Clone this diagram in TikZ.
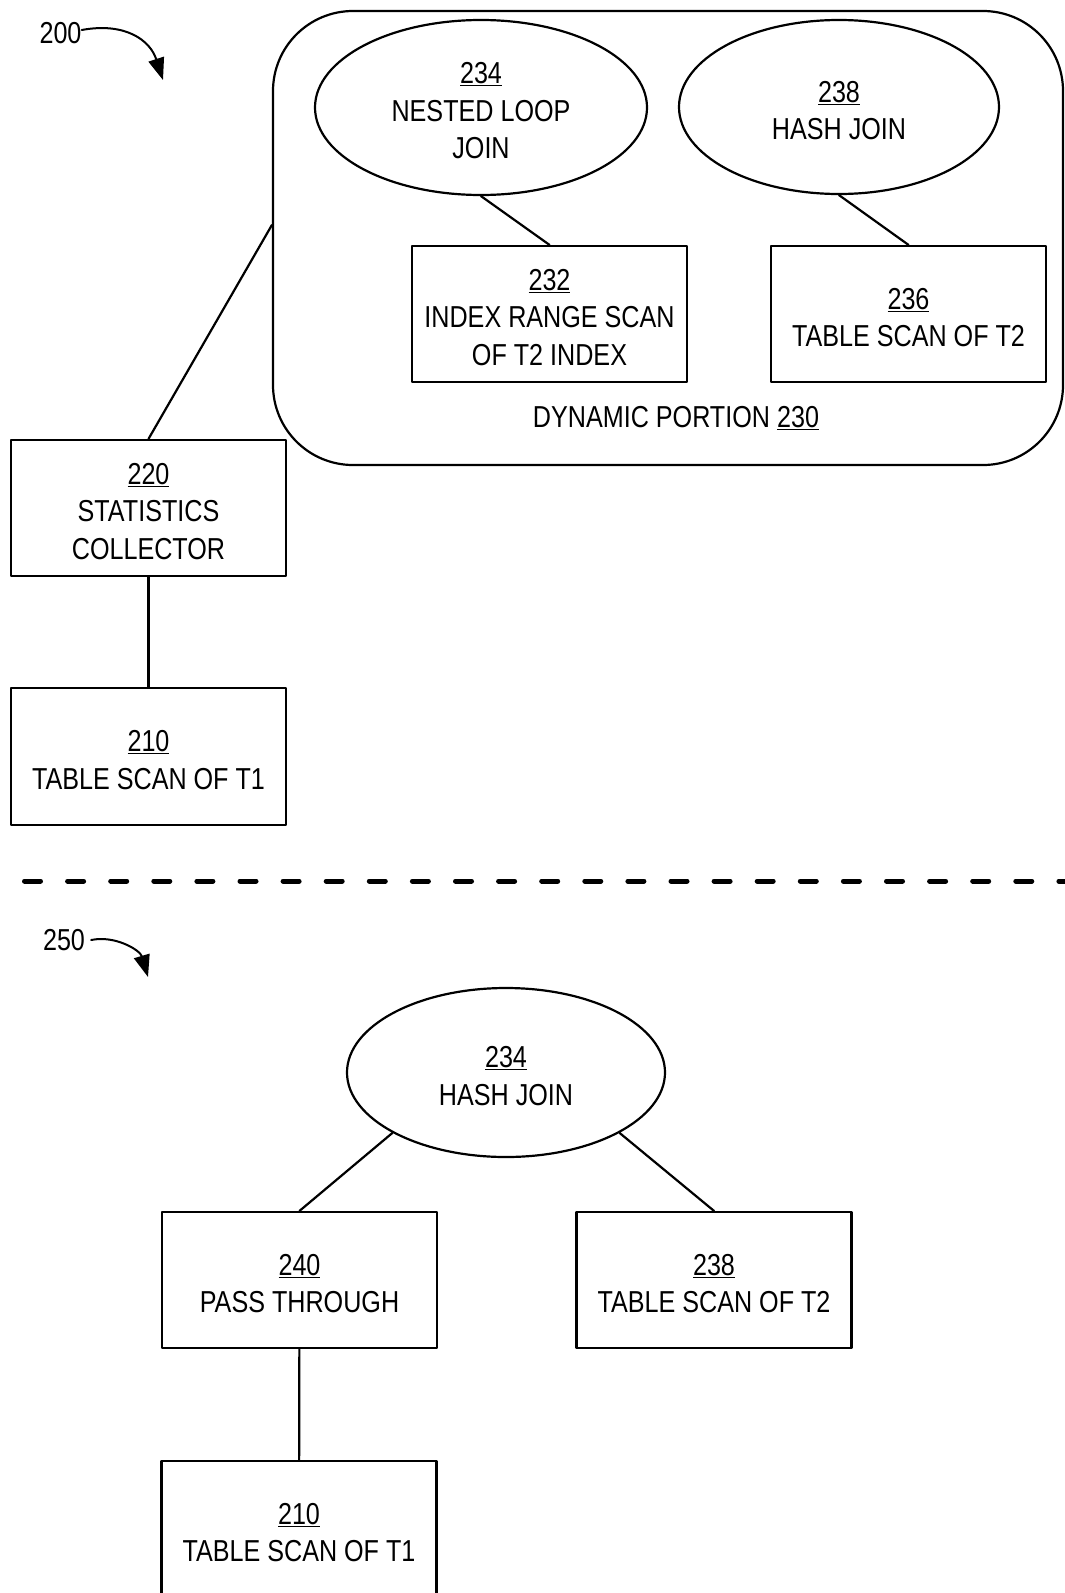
\documentclass[tikz,border=0pt]{standalone}
\usepackage{fontspec}
\setmainfont{Liberation Sans}[FakeStretch=0.83]
\usetikzlibrary{shapes, arrows.meta}
\newcommand{\refno}[1]{\rule{0pt}{28pt}\underline{#1}}
\tikzset{
	planbox/.style={draw, line width=2.2pt, minimum width=275pt, minimum height=136pt, inner sep=0pt, align=center},
	joinnode/.style={draw, ellipse, line width=2.2pt, inner sep=0pt, align=center},
	link/.style={line width=2.2pt},
	refarrow/.style={line width=2pt, -{Triangle[length=22pt,width=16pt]}}
}

\begin{document}
\begin{tikzpicture}[x=1pt,y=-1pt,line join=round,line cap=round,font=\fontsize{30.3}{37.5}\selectfont]
	\useasboundingbox (0,0) rectangle (1065,1593);

	% plan 200
	\begin{scope}
	\node[inner sep=0pt] (l200) at (60.5,33) {200};
	\coordinate (a200) at (163,80);
	\draw[refarrow] ([yshift=3pt]l200.east) .. controls (125,22) and (150,40) .. (a200);

	\node[draw, rounded corners=80pt, line width=2.2pt, minimum width=790pt, minimum height=454pt] (dyn) at (668,238) {};
	\node at (676,415) {DYNAMIC PORTION \refno{230}};

	\node[joinnode, minimum width=332pt, minimum height=175pt] (nlj) at (481,107.5) {\refno{234}\\NESTED LOOP\\JOIN};
	\node[joinnode, minimum width=320pt, minimum height=174pt] (hj) at (839,107) {\refno{238}\\HASH JOIN};
	\node[planbox] (irs) at (549.5,314) {\refno{232}\\INDEX RANGE SCAN\\OF T2 INDEX};
	\node[planbox] (ts2) at (908.5,314) {\refno{236}\\TABLE SCAN OF T2};
	\node[planbox] (stats) at (148.5,508) {\refno{220}\\STATISTICS\\COLLECTOR};
	\node[planbox, minimum height=137pt] (ts1) at (148.5,756.5) {\refno{210}\\TABLE SCAN OF T1};

	\draw[link] (nlj.south) -- (irs.north);
	\draw[link] (hj.south) -- (ts2.north);
	\draw[link] (stats.north) -- ([yshift=13pt]dyn.west);
	\draw[link] (stats) -- (ts1);
	\end{scope}

	\draw[line width=5pt, dash pattern=on 16pt off 27.1pt] (24.5,881) -- (1066,881);

	% plan 250
	\begin{scope}
	\node[inner sep=0pt] (l250) at (64,940) {250};
	\coordinate (a250) at (148,977);
	\draw[refarrow] ([xshift=6pt]l250.east) .. controls (115,935) and (140,950) .. (a250);

	\node[joinnode, minimum width=318pt, minimum height=169pt] (hjb) at (506,1072.5) {\refno{234}\\HASH JOIN};
	\node[planbox] (pass) at (299.5,1280) {\refno{240}\\PASS THROUGH};
	\node[planbox] (ts2b) at (714,1280) {\refno{238}\\TABLE SCAN OF T2};
	\node[planbox] (ts1b) at (299,1529) {\refno{210}\\TABLE SCAN OF T1};

	\draw[link] (hjb.208) -- (pass.north);
	\draw[link] (hjb.332) -- (ts2b.north);
	\draw[link] (pass) -- (ts1b);
	\end{scope}
\end{tikzpicture}
\end{document}
